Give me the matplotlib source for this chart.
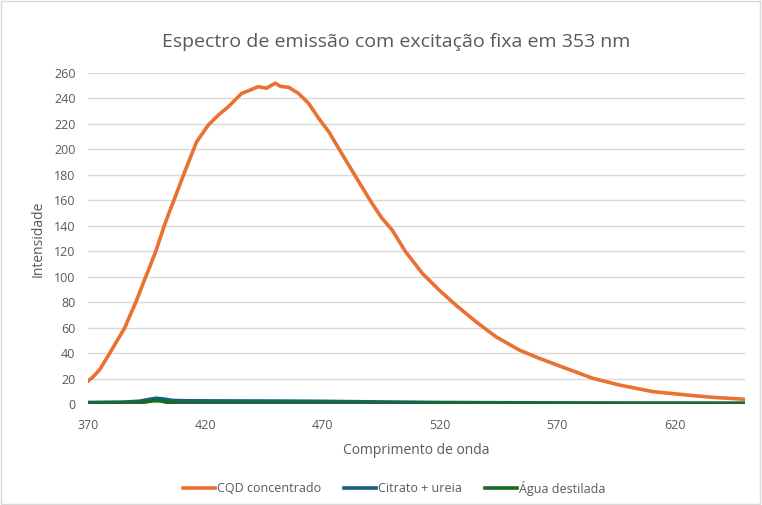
import matplotlib
matplotlib.use("Agg")
import matplotlib.pyplot as plt
from matplotlib.patches import Rectangle

# --- data ---
wl_cqd = [370, 372, 375, 379.3, 382.5, 385.7, 388, 390.4, 392.5, 394.6, 396.8, 398.9,
          400.7, 402.5, 404.5, 406.6, 409.9, 412, 416.3,
          421.3, 425.6, 429.8, 435.5, 439, 442.6, 446, 449.8, 452, 455.5, 459.7, 464, 468.3,
          472.6, 476.8, 481.1, 485.4, 491, 495.3, 499.6, 505.3, 512.5, 519.6, 526.7, 535.3,
          543.8, 553.8, 562.3, 573.7, 585.1, 596.5, 610.8, 625, 636.4, 650]
cqd = [18, 21, 27, 40, 50, 60, 70, 80, 90, 100, 110, 120,
       130, 140, 150, 160, 176, 186, 206,
       219.2, 227, 233.5, 244, 246.5, 249.3, 248, 252, 249.5, 248.8, 244, 236.2, 224.4,
       213.9, 200.9, 187.7, 174.6, 157.7, 145.9, 136.7, 119.7, 102.6, 89.6, 77.8, 64.7,
       52.9, 42.4, 35.9, 28, 20.2, 14.9, 9.7, 7.1, 5.2, 3.7]

wl_cit = [370, 385, 392, 396, 399, 402, 406, 412, 430, 450, 470, 490, 520, 560, 600, 650]
citrato = [1.2, 1.5, 2.2, 3.6, 4.5, 4.0, 2.8, 2.5, 2.4, 2.3, 2.1, 1.7, 1.2, 0.9, 0.7, 0.6]

wl_agua = [370, 390, 394, 398, 401, 404, 408, 420, 500, 650]
agua = [0.5, 0.7, 1.5, 2.6, 2.4, 1.2, 0.7, 0.6, 0.5, 0.4]

series_names = ["CQD concentrado", "Citrato + ureia", "Água destilada"]
colors = ["#E97132", "#156082", "#196B24"]
xticks = [370, 420, 470, 520, 570, 620]
yticks = list(range(0, 261, 20))

plt.rcParams['font.family'] = ['Open Sans', 'DejaVu Sans']
txt = "#595959"

fig = plt.figure(figsize=(7.62, 5.05), dpi=100)
ax = fig.add_axes([88/762, 1-404/505, (745-88)/762, (404-73)/505])

ax.plot(wl_cqd, cqd, color=colors[0], lw=2.6, label=series_names[0], zorder=3)
ax.plot(wl_cit, citrato, color=colors[1], lw=2.6, label=series_names[1], zorder=4)
ax.plot(wl_agua, agua, color=colors[2], lw=2.6, label=series_names[2], zorder=5)

ax.set_xlim(370, 650)
ax.set_ylim(0, 260)
ax.set_xticks(xticks)
ax.set_yticks(yticks)
ax.grid(axis='y', color='#D9D9D9', lw=1)
ax.set_axisbelow(True)
for s in ax.spines.values():
    s.set_visible(False)
ax.tick_params(length=0, colors=txt, labelsize=9)
ax.tick_params(axis='x', pad=11)
ax.tick_params(axis='y', pad=9)

ax.set_xlabel("Comprimento de onda", color=txt, fontsize=10, labelpad=8)
ax.set_ylabel("Intensidade", color=txt, fontsize=10, labelpad=6)
fig.text(0.52, 1-42/505, "Espectro de emissão com excitação fixa em 353 nm",
         ha='center', va='center', color=txt, fontsize=14)

leg = fig.legend(loc='center', bbox_to_anchor=(394/762, 1-488/505), ncol=3, frameon=False,
                 fontsize=9, handlelength=2.6, columnspacing=1.8, handletextpad=0.15)
for t in leg.get_texts():
    t.set_color(txt)

fig.patches.append(Rectangle((0.001, 0.001), 0.997, 0.997, transform=fig.transFigure,
                             fill=False, edgecolor='#D9D9D9', lw=1))

fig.savefig("out.png", dpi=100, facecolor='white')
